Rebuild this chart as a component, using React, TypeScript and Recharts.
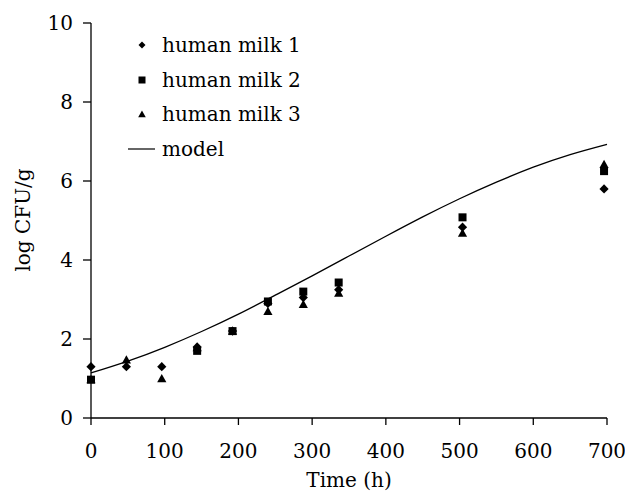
import React from 'react';
import {
  ComposedChart,
  Scatter,
  Line,
  XAxis,
  YAxis,
  Label,
} from "recharts";

const milk1Time: number[] = [0, 48, 96, 144, 192, 240, 288, 336, 504, 696];
const milk1: number[] = [1.3, 1.3, 1.3, 1.8, 2.2, 2.9, 3.05, 3.25, 4.83, 5.8];
const milk2Time: number[] = [0, 144, 192, 240, 288, 336, 504, 696];
const milk2: number[] = [0.97, 1.7, 2.2, 2.95, 3.2, 3.43, 5.08, 6.25];
const milk3Time: number[] = [0, 48, 96, 144, 192, 240, 288, 336, 504, 696];
const milk3: number[] = [0.97, 1.47, 1.0, 1.78, 2.2, 2.7, 2.88, 3.16, 4.68, 6.42];
const modelTime: number[] = [0, 50, 100, 150, 200, 250, 300, 350, 400, 450, 500, 550, 600, 650, 700];
const model: number[] = [1.14, 1.44, 1.79, 2.19, 2.63, 3.11, 3.6, 4.1, 4.6, 5.09, 5.55, 5.97, 6.35, 6.67, 6.93];

const xTicks: number[] = [0, 100, 200, 300, 400, 500, 600, 700];
const yTicks: number[] = [0, 2, 4, 6, 8, 10];

const legendNames: string[] = ["human milk 1", "human milk 2", "human milk 3", "model"];

const FONT = "'DejaVu Serif', serif";

const toPoints = (t: number[], v: number[]) => t.map((x, i) => ({ t: x, v: v[i] }));

const Diamond = (props: any) => {
  const { cx, cy } = props;
  const r = 4.6;
  return <path d={`M${cx},${cy - r}L${cx + r},${cy}L${cx},${cy + r}L${cx - r},${cy}Z`} fill="#000" />;
};

const Square = (props: any) => {
  const { cx, cy } = props;
  const r = 4;
  return <rect x={cx - r} y={cy - r} width={2 * r} height={2 * r} fill="#000" />;
};

const Triangle = (props: any) => {
  const { cx, cy } = props;
  const r = 4.6;
  return <path d={`M${cx},${cy - r}L${cx + r},${cy + r * 0.8}L${cx - r},${cy + r * 0.8}Z`} fill="#000" />;
};

// legend drawn over the plot, top-left
const LegendBox = () => {
  const icons = [
    <path d="M7,3.5L10.5,7L7,10.5L3.5,7Z" fill="#000" />,
    <rect x="3.5" y="3.5" width="7" height="7" fill="#000" />,
    <path d="M7,3.5L10.8,10.2L3.2,10.2Z" fill="#000" />,
    <line x1="-7" y1="7" x2="20" y2="7" stroke="#000" strokeWidth={1.2} />,
  ];
  return (
    <div style={{ position: "absolute", left: 135, top: 28, fontFamily: FONT, fontSize: 20, color: "#000", lineHeight: 1 }}>
      {legendNames.map((n, i) => (
        <div key={n} style={{ display: "flex", alignItems: "center", height: 34.5 }}>
          <svg width={14} height={14} style={{ overflow: "visible", marginRight: 13 }}>{icons[i]}</svg>
          <span>{n}</span>
        </div>
      ))}
    </div>
  );
};

const App: React.FC = () => {
  return (
    <div style={{ position: "absolute", left: 0, top: 0, width: 625, height: 498, background: "#fff" }}>
      <ComposedChart width={625} height={498} margin={{ top: 23, right: 18, left: 0, bottom: 0 }}>
        <XAxis
          type="number"
          dataKey="t"
          domain={[0, 700]}
          ticks={xTicks}
          interval={0}
          height={80}
          tickSize={7}
          tickMargin={19}
          axisLine={{ stroke: "#000", strokeWidth: 1.3 }}
          tickLine={{ stroke: "#000", strokeWidth: 1.3 }}
          tick={{ fill: "#000", fontFamily: FONT, fontSize: 20 }}
          allowDuplicatedCategory={false}
        >
          <Label
            content={() => (
              <text x={349} y={487} textAnchor="middle" fontFamily={FONT} fontSize={20} fill="#000">Time (h)</text>
            )}
          />
        </XAxis>
        <YAxis
          type="number"
          dataKey="v"
          domain={[0, 10]}
          ticks={yTicks}
          interval={0}
          width={91}
          tickSize={8}
          tickMargin={10}
          axisLine={{ stroke: "#000", strokeWidth: 1.3 }}
          tickLine={{ stroke: "#000", strokeWidth: 1.3 }}
          tick={{ fill: "#000", fontFamily: FONT, fontSize: 20 }}
        >
          <Label
            content={() => (
              <text x={30} y={220} transform="rotate(-90 30 220)" textAnchor="middle" fontFamily={FONT} fontSize={20} fill="#000">log CFU/g</text>
            )}
          />
        </YAxis>
        <Line
          data={toPoints(modelTime, model)}
          dataKey="v"
          type="natural"
          stroke="#000"
          strokeWidth={1.3}
          dot={false}
          activeDot={false}
          isAnimationActive={false}
          name="model"
        />
        <Scatter data={toPoints(milk3Time, milk3)} shape={<Triangle />} isAnimationActive={false} name="human milk 3" />
        <Scatter data={toPoints(milk2Time, milk2)} shape={<Square />} isAnimationActive={false} name="human milk 2" />
        <Scatter data={toPoints(milk1Time, milk1)} shape={<Diamond />} isAnimationActive={false} name="human milk 1" />
      </ComposedChart>
      <LegendBox />
    </div>
  );
};

export default App;
